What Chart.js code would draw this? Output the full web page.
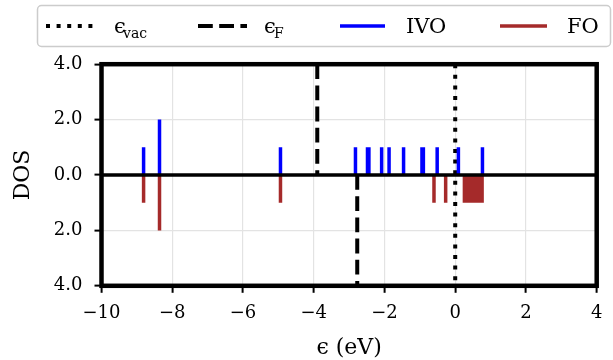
<!DOCTYPE html>
<html><head><meta charset="utf-8">
<script src="https://cdn.jsdelivr.net/npm/chart.js@4/dist/chart.umd.min.js"></script>
<style>html,body{margin:0;padding:0;background:#fff;} #wrap{width:613px;height:360px;position:relative;}</style>
</head><body><div id="wrap"><canvas id="c" width="613" height="360"></canvas></div>
<script>
// ---- data ----
const ivoEnergies = [-8.81, -8.36, -4.94, -2.82, -2.48, -2.44, -2.08, -1.87, -1.46, -0.94, -0.90, -0.51, 0.09, 0.77];
const ivoDos      = [1, 2, 1, 1, 1, 1, 1, 1, 1, 1, 1, 1, 1, 1];
const foEnergies  = [-8.81, -8.36, -4.94, -0.60, -0.27, 0.26, 0.29, 0.33, 0.36, 0.40, 0.44, 0.47, 0.51, 0.55, 0.58, 0.62, 0.66, 0.69, 0.73, 0.76];
const foDos       = [-1, -2, -1, -1, -1, -1, -1, -1, -1, -1, -1, -1, -1, -1, -1, -1, -1, -1, -1, -1];
const eVac = 0.0;
const eFermiIVO = -3.90;   // upper half
const eFermiFO = -2.77;    // lower half
const xTickValues = [-10, -8, -6, -4, -2, 0, 2, 4];
const xTickLabels = ['\u221210', '\u22128', '\u22126', '\u22124', '\u22122', '0', '2', '4'];
const yTickValues = [-4, -2, 0, 2, 4];
const yTickLabels = ['4.0', '2.0', '0.0', '2.0', '4.0'];
const seriesNames = ['IVO', 'FO'];
const xTitle = '\u03f5 (eV)';
const yTitle = 'DOS';

// ---- build datasets ----
function sticks(es, hs) {
  const d = [];
  es.forEach((e, i) => { d.push({x: e, y: 0}, {x: e, y: hs[i]}, {x: e, y: null}); });
  return d;
}
const xMin = xTickValues[0], xMax = xTickValues[xTickValues.length - 1];
const yMin = yTickValues[0], yMax = yTickValues[yTickValues.length - 1];

const SERIF = "'DejaVu Serif', serif";
const BLUE = '#0000ff', BROWN = '#a52a2a';
const DOT = [4, 6.6], DASH = [14.8, 6.4];

const framePlugin = {
  id: 'frame',
  afterDatasetsDraw(chart) {
    const {ctx, chartArea: a, scales: {y}} = chart;
    ctx.save();
    ctx.strokeStyle = '#000';
    ctx.lineWidth = 3.5;
    const y0 = y.getPixelForValue(0);
    ctx.beginPath(); ctx.moveTo(a.left, y0); ctx.lineTo(a.right, y0); ctx.stroke();
    ctx.lineWidth = 4.5;
    ctx.strokeRect(a.left, a.top, a.right - a.left, a.bottom - a.top);
    ctx.restore();
  }
};

const legendPlugin = {
  id: 'customLegend',
  afterDraw(chart) {
    const ctx = chart.ctx;
    ctx.save();
    // box
    ctx.beginPath();
    ctx.roundRect(37.5, 5.5, 573, 41, 4);
    ctx.fillStyle = 'rgba(255,255,255,0.8)';
    ctx.fill();
    ctx.strokeStyle = '#cccccc';
    ctx.lineWidth = 1.5;
    ctx.stroke();
    const ly = 26;
    function sample(x0, x1, color, width, dash) {
      ctx.beginPath();
      ctx.setLineDash(dash);
      ctx.lineCap = 'butt';
      ctx.strokeStyle = color; ctx.lineWidth = width;
      ctx.moveTo(x0, ly); ctx.lineTo(x1, ly); ctx.stroke();
      ctx.setLineDash([]);
    }
    sample(46, 93, '#000', 4, DOT);
    sample(198, 247, '#000', 4, DASH);
    sample(340, 385, BLUE, 3.5, []);
    sample(500, 547, BROWN, 3.5, []);
    ctx.fillStyle = '#000';
    ctx.textBaseline = 'alphabetic';
    ctx.textAlign = 'left';
    ctx.font = '21px ' + SERIF;
    ctx.fillText('\u03f5', 114, 33);
    ctx.fillText('\u03f5', 264, 33);
    ctx.fillText(seriesNames[0], 406, 33);
    ctx.fillText(seriesNames[1], 567, 33);
    ctx.font = '14px ' + SERIF;
    ctx.fillText('vac', 123, 38);
    ctx.fillText('F', 274, 38);
    ctx.restore();
  }
};

new Chart(document.getElementById('c'), {
  type: 'line',
  data: {
    datasets: [
      {label: seriesNames[0], data: sticks(ivoEnergies, ivoDos), borderColor: BLUE, borderWidth: 3.5,
       pointRadius: 0, spanGaps: false, borderCapStyle: 'butt', tension: 0},
      {label: seriesNames[1], data: sticks(foEnergies, foDos), borderColor: BROWN, borderWidth: 3.5,
       pointRadius: 0, spanGaps: false, borderCapStyle: 'butt', tension: 0},
      {label: 'F_IVO', data: [{x: eFermiIVO, y: yMax}, {x: eFermiIVO, y: 0}], borderColor: '#000', borderWidth: 4,
       borderDash: DASH, pointRadius: 0, borderCapStyle: 'butt'},
      {label: 'F_FO', data: [{x: eFermiFO, y: 0}, {x: eFermiFO, y: yMin}], borderColor: '#000', borderWidth: 4,
       borderDash: DASH, pointRadius: 0, borderCapStyle: 'butt'},
      {label: 'vac', data: [{x: eVac, y: yMax}, {x: eVac, y: yMin}], borderColor: '#000', borderWidth: 4,
       borderDash: DOT, pointRadius: 0, borderCapStyle: 'butt'}
    ]
  },
  options: {
    responsive: false,
    animation: false,
    events: [],
    layout: {padding: {left: 0, right: 16.3, top: 64.2, bottom: 0}},
    plugins: {legend: {display: false}, tooltip: {enabled: false}},
    scales: {
      x: {
        type: 'linear', min: xMin, max: xMax,
        afterBuildTicks(s) { s.ticks = xTickValues.map(v => ({value: v})); },
        afterFit(s) { s.height = 74.2; },
        ticks: {
          color: '#000', font: {family: SERIF, size: 18}, padding: 10, maxRotation: 0,
          callback: (v) => xTickLabels[xTickValues.indexOf(v)]
        },
        grid: {color: '#e3e3e3', lineWidth: 1.2, tickColor: '#000', tickWidth: 2, tickLength: 7},
        border: {display: false},
        title: {display: true, text: xTitle, color: '#000', font: {family: SERIF, size: 22}, padding: {top: 0, bottom: -1}}
      },
      y: {
        type: 'linear', min: yMin, max: yMax,
        afterBuildTicks(s) { s.ticks = yTickValues.map(v => ({value: v})); },
        afterFit(s) { s.width = 101.5; },
        ticks: {
          color: '#000', font: {family: SERIF, size: 18}, padding: 12,
          callback: (v) => yTickLabels[yTickValues.indexOf(v)]
        },
        grid: {color: '#e3e3e3', lineWidth: 1.2, tickColor: '#000', tickWidth: 2, tickLength: 7},
        border: {display: false},
        title: {display: true, text: yTitle, color: '#000', font: {family: SERIF, size: 22}, padding: {top: 10, bottom: 0}}
      }
    }
  },
  plugins: [framePlugin, legendPlugin]
});
</script>
</body></html>
